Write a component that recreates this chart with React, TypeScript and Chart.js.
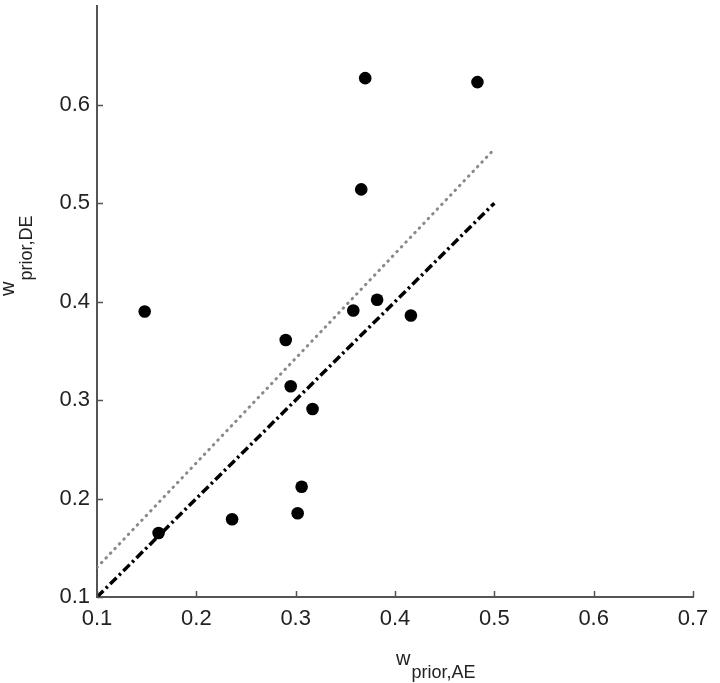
import React, { useEffect, useRef } from "react";
import { Chart, registerables } from "chart.js";

Chart.register(...registerables);

// Scatter data (w_prior,AE vs w_prior,DE)
const xValues = [0.370, 0.483, 0.366, 0.148, 0.290, 0.358, 0.382, 0.416, 0.295, 0.317, 0.306, 0.302, 0.236, 0.162];
const yValues = [0.627, 0.623, 0.514, 0.390, 0.361, 0.391, 0.402, 0.386, 0.314, 0.291, 0.212, 0.185, 0.179, 0.165];

// Identity line (dash-dot black)
const identityX = [0.1, 0.5];
const identityY = [0.1, 0.5];

// Fitted line (dotted gray)
const fitX = [0.1, 0.5];
const fitY = [0.130, 0.555];

// Tick values
const xTicks = [0.1, 0.2, 0.3, 0.4, 0.5, 0.6, 0.7];
const yTicks = [0.1, 0.2, 0.3, 0.4, 0.5, 0.6];

const FONT = "'Liberation Sans', Arial, Helvetica, sans-serif";
const TEXT = "#222";
const AXIS = "#555";

const decorPlugin = {
  id: "decor",
  afterDraw(chart: any) {
    const ctx = chart.ctx;
    const xs = chart.scales.x;
    const ys = chart.scales.y;
    const area = chart.chartArea;
    ctx.save();
    // inward tick marks
    ctx.strokeStyle = AXIS;
    ctx.lineWidth = 1.5;
    ctx.beginPath();
    xTicks.forEach((v) => {
      const px = Math.round(xs.getPixelForValue(v)) + 0.5;
      ctx.moveTo(px, area.bottom);
      ctx.lineTo(px, area.bottom - 6);
    });
    yTicks.forEach((v) => {
      const py = Math.round(ys.getPixelForValue(v)) + 0.5;
      ctx.moveTo(area.left, py);
      ctx.lineTo(area.left + 6, py);
    });
    ctx.stroke();

    // axis titles with subscripts
    ctx.fillStyle = TEXT;
    ctx.textBaseline = "alphabetic";
    ctx.textAlign = "left";
    // x title
    ctx.font = `20px ${FONT}`;
    const wx = 396;
    ctx.fillText("w", wx, 665);
    const ww = ctx.measureText("w").width;
    ctx.font = `18px ${FONT}`;
    ctx.fillText("prior,AE", wx + ww + 1, 678);

    // y title (rotated)
    ctx.translate(14, 296);
    ctx.rotate(-Math.PI / 2);
    ctx.font = `20px ${FONT}`;
    ctx.fillText("w", 0, 0);
    ctx.font = `18px ${FONT}`;
    ctx.fillText("prior,DE", ww + 1, 18);
    ctx.restore();
  },
};

export default function App() {
  const canvasRef = useRef<HTMLCanvasElement | null>(null);

  useEffect(() => {
    document.body.style.margin = "0";
    const canvas = canvasRef.current;
    if (!canvas) return;

    const points = xValues.map((x, i) => ({ x, y: yValues[i] }));
    const identity = identityX.map((x, i) => ({ x, y: identityY[i] }));
    const fit = fitX.map((x, i) => ({ x, y: fitY[i] }));

    const chart = new Chart(canvas, {
      type: "scatter",
      data: {
        datasets: [
          {
            label: "fit",
            data: fit,
            showLine: true,
            borderColor: "#8a8a8a",
            borderWidth: 3,
            borderDash: [0.5, 6],
            borderCapStyle: "round",
            pointRadius: 0,
            fill: false,
          } as any,
          {
            label: "identity",
            data: identity,
            showLine: true,
            borderColor: "#000",
            borderWidth: 3.5,
            borderDash: [9, 3.5, 2.5, 3.5],
            borderCapStyle: "butt",
            pointRadius: 0,
            fill: false,
          } as any,
          {
            label: "data",
            data: points,
            backgroundColor: "#000",
            borderColor: "#000",
            borderWidth: 0,
            pointRadius: 6.3,
            pointStyle: "circle",
          } as any,
        ],
      },
      options: {
        responsive: false,
        animation: false,
        devicePixelRatio: 1,
        layout: { padding: { left: 0, right: 27, top: 3, bottom: 0 } },
        plugins: {
          legend: { display: false },
          tooltip: { enabled: false },
          title: { display: false },
        },
        scales: {
          x: {
            type: "linear",
            min: 0.1,
            max: 0.7,
            afterBuildTicks: (scale: any) => {
              scale.ticks = xTicks.map((v) => ({ value: v }));
            },
            afterFit: (scale: any) => {
              scale.height = 86;
              scale.paddingLeft = 0;
              scale.paddingRight = 0;
            },
            grid: { display: false, drawTicks: false },
            border: { display: true, color: AXIS, width: 2 },
            ticks: {
              padding: 9,
              color: TEXT,
              font: { family: FONT, size: 22 },
              maxRotation: 0,
              callback: (v: any) => Number(v).toFixed(1),
            },
          },
          y: {
            type: "linear",
            min: 0.1,
            max: 0.7,
            afterBuildTicks: (scale: any) => {
              scale.ticks = yTicks.map((v) => ({ value: v }));
            },
            afterFit: (scale: any) => {
              scale.width = 97;
              scale.paddingTop = 0;
              scale.paddingBottom = 0;
            },
            grid: { display: false, drawTicks: false },
            border: { display: true, color: AXIS, width: 2 },
            ticks: {
              padding: 7,
              color: TEXT,
              font: { family: FONT, size: 22 },
              callback: (v: any) => Number(v).toFixed(1),
            },
          },
        },
      },
      plugins: [decorPlugin],
    });

    return () => chart.destroy();
  }, []);

  return (
    <div style={{ width: 720, height: 683, background: "#fff" }}>
      <canvas ref={canvasRef} width={720} height={683} style={{ display: "block" }} />
    </div>
  );
}
